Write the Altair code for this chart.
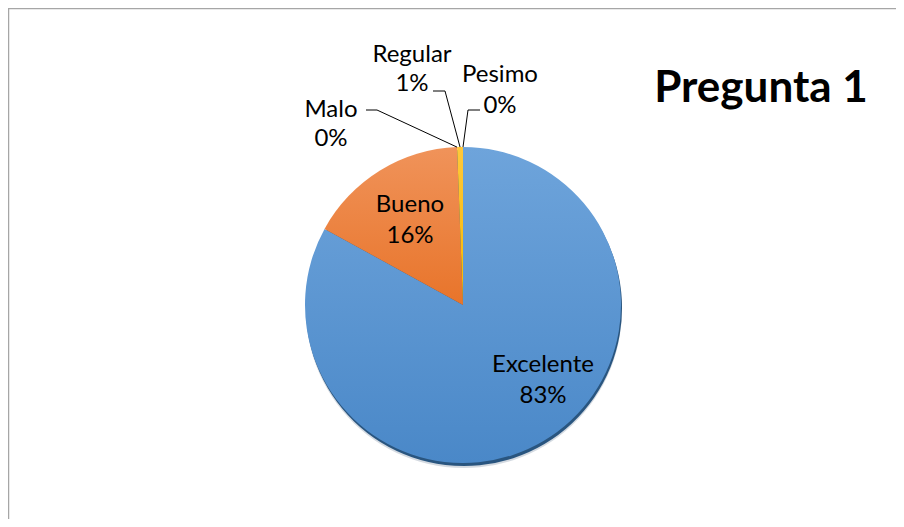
import math
import altair as alt
import pandas as pd

# ---- data ----
categories = ["Excelente", "Bueno", "Malo", "Regular", "Pesimo"]
values = [83.0, 16.4, 0.0, 0.6, 0.0]
colors_top = ["#6ea4db", "#f0935a", "#b5b5b5", "#ffc83a", "#5582cc"]
colors_bottom = ["#4a88c8", "#e8742a", "#9a9a9a", "#f5b800", "#3d68b5"]
title_text = "Pregunta 1"

# ---- layout (chart pixel coords; page = chart + 8) ----
W, H = 888, 511
CX, CY, R = 455, 297, 158
FONT = "Lato"
label_pos = {  # centre x, baseline of first line, baseline of second line
    "Excelente": (535, 364, 395),
    "Bueno": (402, 204, 235),
    "Malo": (323, 109, 138),
    "Regular": (404, 54, 83),
    "Pesimo": (492, 74, 105),
}
leader_stub = {  # label-side points of the leader lines
    "Malo": [(358, 102), (369, 102)],
    "Regular": [(425, 83), (437, 83)],
    "Pesimo": [(472, 102), (460, 102)],
}

total = sum(values)
df = pd.DataFrame({"idx": range(len(categories)), "category": categories, "value": values})

theta_scale = alt.Scale(domain=[0, total], range=[0, 2 * math.pi])
base = alt.Chart(df).transform_window(
    cum="sum(value)", sort=[alt.SortField("idx")]
).transform_calculate(start="datum.cum - datum.value")

# shadow rim under the pie
shadow = alt.Chart(df).mark_arc(radius=R, color="#29557f").encode(
    theta=alt.Theta("value:Q", stack=True),
    order=alt.Order("idx:Q"),
    x=alt.value(CX + 1), y=alt.value(CY + 3),
)
shadow2 = alt.Chart(df).mark_arc(radius=R, color="#8396aa", opacity=0.35).encode(
    theta=alt.Theta("value:Q", stack=True),
    order=alt.Order("idx:Q"),
    x=alt.value(CX + 1), y=alt.value(CY + 5),
)

slices = []
for i, cat in enumerate(categories):
    grad = alt.Gradient(
        gradient="linear", x1=0, y1=0, x2=0, y2=1,
        stops=[alt.GradientStop(color=colors_top[i], offset=0),
               alt.GradientStop(color=colors_bottom[i], offset=1)],
    )
    slices.append(
        base.transform_filter(alt.datum.category == cat).mark_arc(radius=R, fill=grad).encode(
            theta=alt.Theta("start:Q", scale=theta_scale),
            theta2="cum:Q",
            x=alt.value(CX), y=alt.value(CY),
        )
    )

# labels
rows = []
for i, cat in enumerate(categories):
    pct = round(values[i] / total * 100)
    cx, b1, b2 = label_pos[cat]
    rows.append({"x": cx, "y": b1, "t": cat})
    rows.append({"x": cx, "y": b2, "t": f"{pct}%"})
lab_df = pd.DataFrame(rows)
labels = alt.Chart(lab_df).mark_text(
    font=FONT, fontSize=24, color="#000000", baseline="alphabetic", align="center"
).encode(
    x=alt.X("x:Q", scale=None), y=alt.Y("y:Q", scale=None), text="t:N"
)

# leader lines: from label stub to the slice edge
cum = 0.0
lrows = []
for i, cat in enumerate(categories):
    mid = cum + values[i] / 2
    cum += values[i]
    if cat in leader_stub:
        a = mid / total * 2 * math.pi
        pts = leader_stub[cat] + [(CX + R * math.sin(a), CY - R * math.cos(a))]
        for k, (px, py) in enumerate(pts):
            lrows.append({"cat": cat, "k": k, "x": px, "y": py})
lead_df = pd.DataFrame(lrows)
leaders = alt.Chart(lead_df).mark_line(color="#000000", strokeWidth=1).encode(
    x=alt.X("x:Q", scale=None), y=alt.Y("y:Q", scale=None),
    detail="cat:N", order="k:Q",
)

title = alt.Chart(pd.DataFrame({"t": [title_text]})).mark_text(
    font=FONT, fontSize=44, fontWeight="bold", color="#000000",
    baseline="alphabetic", align="center",
).encode(x=alt.value(753), y=alt.value(94), text="t:N")

border = alt.Chart(pd.DataFrame({"a": [0]})).mark_rule(color="#a6a6a6", strokeWidth=1.5).encode(
    x=alt.value(0), x2=alt.value(W), y=alt.value(0.5)
)
border2 = alt.Chart(pd.DataFrame({"a": [0]})).mark_rule(color="#a6a6a6", strokeWidth=1.5).encode(
    x=alt.value(0.5), y=alt.value(0), y2=alt.value(H)
)

chart = alt.layer(
    border, border2, shadow2, shadow, *slices, leaders, labels, title
).properties(
    width=W, height=H, padding=0, autosize=alt.AutoSizeParams(type="none")
).configure_view(strokeWidth=0, stroke="transparent").configure(background="#ffffff")

chart.save("out.html", embed_options={"renderer": "svg", "actions": False})
